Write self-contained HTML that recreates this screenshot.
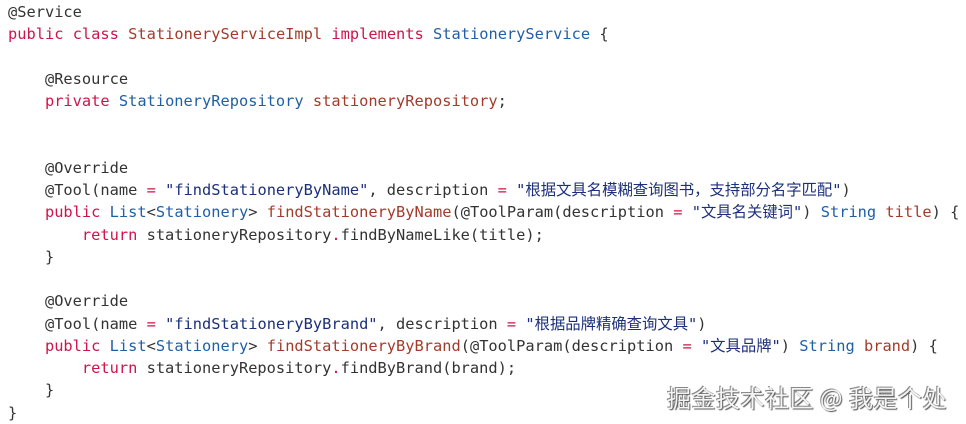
<!DOCTYPE html>
<html><head><meta charset="utf-8"><style>
html,body{margin:0;padding:0;background:#fff;width:966px;height:424px;overflow:hidden;position:relative}
pre{margin:0;position:absolute;left:8px;top:1px;font-family:"DejaVu Sans Mono","Noto Sans CJK SC",monospace;font-size:15.35px;line-height:22.25px;color:#333}
.k{color:#d0134a}.c{color:#a33b2a}.t{color:#1f5fa5}.s{color:#1c2f7a}
.wm{position:absolute;left:667px;top:381px;font-family:"Noto Sans CJK SC",sans-serif;font-size:24px;line-height:32px;color:#f4f4f4;text-shadow:1px 1px 1px #555,-1px -1px 0 #888;white-space:nowrap;letter-spacing:0.5px}
</style></head><body>
<pre>@Service
<span class="k">public</span> <span class="k">class</span> <span class="c">StationeryServiceImpl</span> <span class="k">implements</span> <span class="t">StationeryService</span> {

    @Resource
    <span class="k">private</span> <span class="t">StationeryRepository</span> <span class="c">stationeryRepository</span>;


    @Override
    @Tool(name <span class="k">=</span> <span class="s">"findStationeryByName"</span>, description <span class="k">=</span> <span class="s">"根据文具名模糊查询图书，支持部分名字匹配"</span>)
    <span class="k">public</span> <span class="t">List</span>&lt;<span class="t">Stationery</span>&gt; <span class="c">findStationeryByName</span>(@ToolParam(description <span class="k">=</span> <span class="s">"文具名关键词"</span>) <span class="t">String</span> <span class="c">title</span>) {
        <span class="k">return</span> stationeryRepository<span class="k">.</span>findByNameLike(title);
    }

    @Override
    @Tool(name <span class="k">=</span> <span class="s">"findStationeryByBrand"</span>, description <span class="k">=</span> <span class="s">"根据品牌精确查询文具"</span>)
    <span class="k">public</span> <span class="t">List</span>&lt;<span class="t">Stationery</span>&gt; <span class="c">findStationeryByBrand</span>(@ToolParam(description <span class="k">=</span> <span class="s">"文具品牌"</span>) <span class="t">String</span> <span class="c">brand</span>) {
        <span class="k">return</span> stationeryRepository<span class="k">.</span>findByBrand(brand);
    }
}</pre>
<div class="wm">掘金技术社区 @ 我是个处</div>
</body></html>
